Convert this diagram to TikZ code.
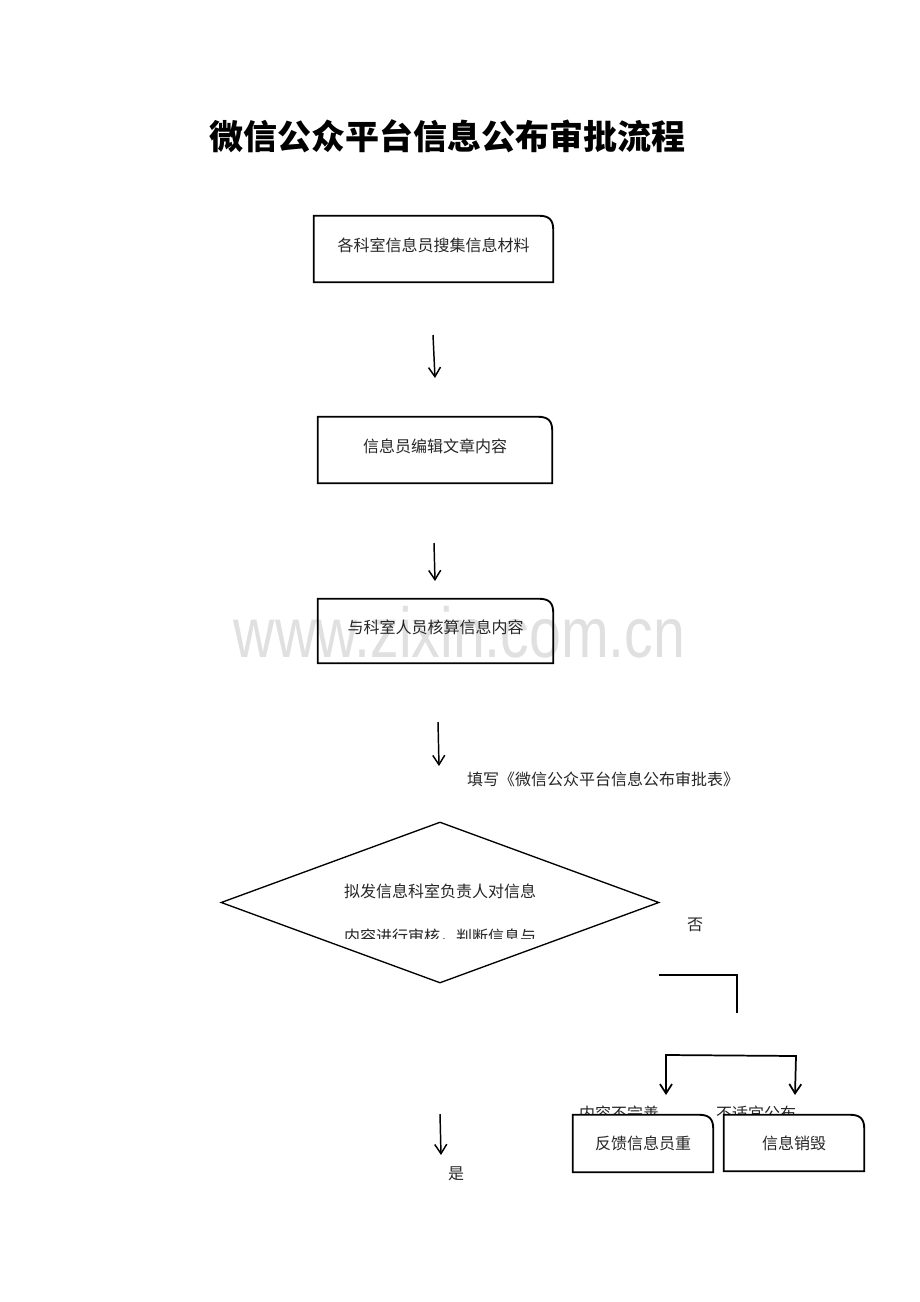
\documentclass[tikz,border=0pt]{standalone}
\usepackage{fontspec}
\setmainfont{Noto Sans CJK SC}
\newfontfamily\wmfont{Liberation Sans}
\usetikzlibrary{arrows.meta,shapes.geometric}
\newcommand{\rtcornerbox}[1]{\draw[boxline] (#1.south west) -- (#1.north west) -- ([xshift=-11pt]#1.north east) .. controls ([xshift=-3pt]#1.north east) and ([yshift=-3pt]#1.north east) .. ([yshift=-11pt]#1.north east) -- (#1.south east) -- cycle;}
\begin{document}
\begin{tikzpicture}[x=0.75pt,y=-0.75pt,
  body/.style={font=\fontsize{12pt}{14pt}\selectfont, inner sep=0pt, text=black!85},
  boxnode/.style={body, text height=9pt, text depth=6pt},
  boxline/.style={line width=1.4pt},
  arrowline/.style={line width=1.1pt, -{Straight Barb[length=7pt,width=9pt]}},
  joinline/.style={line width=1.4pt},
  diamondnode/.style={draw, line width=1pt, shape=diamond, inner sep=0pt, minimum width=328.5pt, minimum height=120.75pt}
]
\fill[white] (0,0) rectangle (920,1302);
\useasboundingbox (0,0) rectangle (920,1302);
% watermark
\node[font=\wmfont\fontsize{53pt}{60pt}\selectfont, text=black!12, xscale=0.81, anchor=base, inner sep=0pt] (wm) at (459.5,657) {www.zixin.com.cn};
% title
\node[font=\bfseries\fontsize{25.5pt}{30pt}\selectfont, inner sep=0pt] (title) at (447,136) {微信公众平台信息公布审批流程};
% boxes
\node[boxnode, minimum width=179.25pt, minimum height=49.5pt] (b1) at (433.5,249) {各科室信息员搜集信息材料};
\node[boxnode, minimum width=175.5pt, minimum height=49.5pt] (b2) at (435,450) {信息员编辑文章内容};
\node[boxnode, minimum width=176.25pt, minimum height=48pt] (b3) at (435.5,631) {与科室人员核算信息内容};
\rtcornerbox{b1}
\rtcornerbox{b2}
\rtcornerbox{b3}
% diamond
\node[diamondnode] (d) at (440,902.5) {};
\node[body] (d1) at (440,891) {拟发信息科室负责人对信息};
\begin{scope}
\clip (300,912) rectangle (580,938);
\node[body] (d2) at (440,937) {内容进行审核，判断信息与};
\end{scope}
% labels
\node[body] (fillform) at (603,779) {填写《微信公众平台信息公布审批表》};
\node[body] (no) at (695,925) {否};
\node[body] (yes) at (456,1174) {是};
\node[body] (l1) at (619,1113) {内容不完善};
\node[body] (l2) at (756,1113) {不适宜公布};
% lower boxes
\node[boxnode, fill=white, text height=9pt, text depth=0pt, minimum width=105pt, minimum height=42.75pt] (b4) at (643,1143.5) {反馈信息员重};
\node[boxnode, fill=white, text height=9pt, text depth=0pt, minimum width=105pt, minimum height=42pt] (b5) at (794,1143) {信息销毁};
\rtcornerbox{b4}
\rtcornerbox{b5}
% arrows
\coordinate (a1s) at (433,335); \coordinate (a1e) at (435,378);
\coordinate (a2s) at (434,543); \coordinate (a2e) at (435,581);
\coordinate (a3s) at (438,722); \coordinate (a3e) at (439,766);
\coordinate (a4s) at (440,1114); \coordinate (a4e) at (441,1155);
\draw[arrowline] (a1s) -- (a1e);
\draw[arrowline] (a2s) -- (a2e);
\draw[arrowline] (a3s) -- (a3e);
\draw[arrowline] (a4s) -- (a4e);
% no branch
\coordinate (j1) at (659,975); \coordinate (j2) at (737,975); \coordinate (j3) at (737,1013);
\draw[joinline] (j1) -- (j2) -- (j3);
\coordinate (k1) at (666,1095); \coordinate (k2) at (666,1055);
\coordinate (k3) at (796,1056); \coordinate (k4) at (795,1095);
\draw[line width=1.3pt, {Straight Barb[length=7pt,width=9pt]}-{Straight Barb[length=7pt,width=9pt]}] (k1) -- (k2) -- (k3) -- (k4);
\end{tikzpicture}
\end{document}
